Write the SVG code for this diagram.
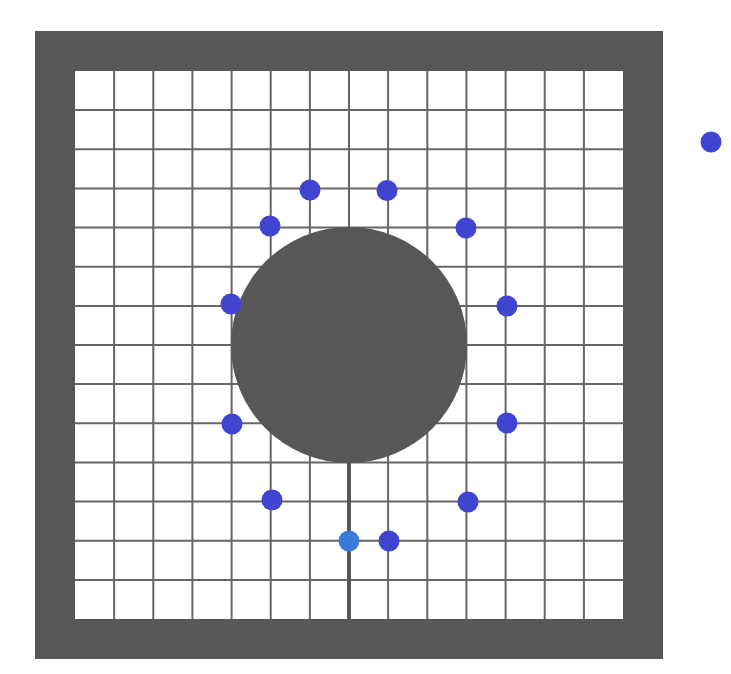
<svg xmlns="http://www.w3.org/2000/svg" width="731" height="674" viewBox="0 0 731 674">
<style>
.grid line{stroke:#666;stroke-width:2}
.dot{fill:#3f45d0}
.dot2{fill:#3a7ad8}
.dark{fill:#575757}
</style>
<rect width="731" height="674" fill="#fff"/>
<g id="frame">
<rect class="dark" x="35" y="31" width="628" height="628"/>
<rect x="75" y="71" width="548" height="548" fill="#fff"/>
</g>
<g id="grid" class="grid">
<line x1="114.1" y1="71" x2="114.1" y2="619"/>
<line x1="153.3" y1="71" x2="153.3" y2="619"/>
<line x1="192.4" y1="71" x2="192.4" y2="619"/>
<line x1="231.6" y1="71" x2="231.6" y2="619"/>
<line x1="270.7" y1="71" x2="270.7" y2="619"/>
<line x1="309.9" y1="71" x2="309.9" y2="619"/>
<line x1="349" y1="71" x2="349" y2="619"/>
<line x1="388.1" y1="71" x2="388.1" y2="619"/>
<line x1="427.3" y1="71" x2="427.3" y2="619"/>
<line x1="466.4" y1="71" x2="466.4" y2="619"/>
<line x1="505.6" y1="71" x2="505.6" y2="619"/>
<line x1="544.7" y1="71" x2="544.7" y2="619"/>
<line x1="583.9" y1="71" x2="583.9" y2="619"/>
<line x1="75" y1="110.1" x2="623" y2="110.1"/>
<line x1="75" y1="149.3" x2="623" y2="149.3"/>
<line x1="75" y1="188.4" x2="623" y2="188.4"/>
<line x1="75" y1="227.6" x2="623" y2="227.6"/>
<line x1="75" y1="266.7" x2="623" y2="266.7"/>
<line x1="75" y1="305.9" x2="623" y2="305.9"/>
<line x1="75" y1="345" x2="623" y2="345"/>
<line x1="75" y1="384.1" x2="623" y2="384.1"/>
<line x1="75" y1="423.3" x2="623" y2="423.3"/>
<line x1="75" y1="462.4" x2="623" y2="462.4"/>
<line x1="75" y1="501.6" x2="623" y2="501.6"/>
<line x1="75" y1="540.7" x2="623" y2="540.7"/>
<line x1="75" y1="579.9" x2="623" y2="579.9"/>
</g>
<g id="connectors">
<line x1="349" y1="440" x2="349" y2="619" stroke="#575757" stroke-width="4"/>
</g>
<g id="obstacle">
<circle class="dark" cx="349" cy="345" r="118"/>
</g>
<g id="dots">
<circle class="dot" cx="310" cy="190" r="10.5"/>
<circle class="dot" cx="387" cy="190.5" r="10.5"/>
<circle class="dot" cx="270" cy="226" r="10.5"/>
<circle class="dot" cx="466" cy="228" r="10.5"/>
<circle class="dot" cx="231" cy="304" r="10.5"/>
<circle class="dot" cx="507" cy="306" r="10.5"/>
<circle class="dot" cx="232" cy="424" r="10.5"/>
<circle class="dot" cx="507" cy="423" r="10.5"/>
<circle class="dot" cx="272" cy="500" r="10.5"/>
<circle class="dot" cx="468" cy="502" r="10.5"/>
<circle class="dot2" cx="349" cy="541" r="10.5"/>
<circle class="dot" cx="389" cy="541" r="10.5"/>
<circle class="dot" cx="711" cy="142" r="10.5"/>
</g>
</svg>
